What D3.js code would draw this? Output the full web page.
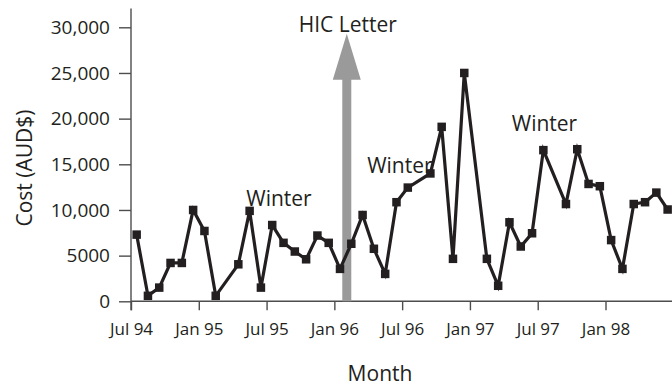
<!DOCTYPE html>
<html><head><meta charset="utf-8">
<script src="https://cdn.jsdelivr.net/npm/d3@7"></script>
<style>
html,body{margin:0;padding:0;background:#fff;}
svg{display:block;}
text{font-family:"Open Sans","Noto Sans",sans-serif;fill:#231f20;}
</style></head>
<body>
<script>
// ---- data ----
const months = ["1994-07","1994-08","1994-09","1994-10","1994-11","1994-12",
 "1995-01","1995-02","1995-04","1995-05","1995-06","1995-07","1995-08","1995-09","1995-10","1995-11","1995-12",
 "1996-01","1996-02","1996-03","1996-04","1996-05","1996-06","1996-07","1996-09","1996-10","1996-11","1996-12",
 "1997-02","1997-03","1997-04","1997-05","1997-06","1997-07","1997-09","1997-10","1997-11","1997-12",
 "1998-01","1998-02","1998-03","1998-04","1998-05","1998-06"];
const costs = [7300,600,1500,4200,4200,10000,
 7700,600,4050,9900,1500,8350,6400,5450,4600,7200,6400,
 3550,6300,9450,5750,3000,10850,12450,14000,19100,4650,25000,
 4650,1700,8650,6000,7450,16550,10650,16650,12850,12600,
 6700,3550,10650,10850,11900,10050];
const yTicks = [0,5000,10000,15000,20000,25000,30000];
const xTickMonths = ["1994-07","1995-01","1995-07","1996-01","1996-07","1997-01","1997-07","1998-01"];
const xTickLabels = ["Jul 94","Jan 95","Jul 95","Jan 96","Jul 96","Jan 97","Jul 97","Jan 98"];
const winterLabels = [{m:"1995-08", off:0.1, v:10400},{m:"1996-06", off:0.8, v:14100},{m:"1997-07", off:0.6, v:18600}];
const hicLetter = {m:"1996-02", off:0.1, top:29300, label:"HIC Letter"};

// ---- layout ----
const W=672,H=386;
const x0=131, x1=605.5, y0=301.3, y1=27.3;
const mIndex = s => { const [y,m]=s.split("-").map(Number); return (y-1994)*12+(m-7); };
const x = d3.scaleLinear().domain([0,42]).range([x0,x1]);
const y = d3.scaleLinear().domain([0,30000]).range([y0,y1]);

const svg = d3.select("body").append("svg").attr("width",W).attr("height",H);

// axes lines
const axisCol="#4d4d4d";
svg.append("line").attr("x1",x0).attr("x2",W).attr("y1",y0).attr("y2",y0).attr("stroke",axisCol).attr("stroke-width",1.4);
svg.append("line").attr("x1",x0).attr("x2",x0).attr("y1",y(32050)).attr("y2",y0+9).attr("stroke",axisCol).attr("stroke-width",1.4);

// y axis
const yAxis = d3.axisLeft(y).tickValues(yTicks).tickSize(12).tickPadding(9)
  .tickFormat(d => d<10000 ? String(d) : d3.format(",")(d));
const gy = svg.append("g").attr("transform",`translate(${x0},0)`).call(yAxis);
gy.select(".domain").remove();
gy.selectAll("line").attr("stroke",axisCol).attr("stroke-width",1.4);
gy.selectAll("text").attr("font-size",19).style("font-family",'"Open Sans",sans-serif').attr("fill","#231f20");

// x axis
const xAxis = d3.axisBottom(x).tickValues(xTickMonths.map(mIndex)).tickSize(9).tickPadding(14)
  .tickFormat((d,i)=>xTickLabels[i]);
const gx = svg.append("g").attr("transform",`translate(0,${y0})`).call(xAxis);
gx.select(".domain").remove();
gx.selectAll("line").attr("stroke",axisCol).attr("stroke-width",1.4);
gx.selectAll("text").attr("font-size",17).attr("dy","0.62em").style("font-family",'"Open Sans",sans-serif').attr("fill","#231f20");

// axis titles
svg.append("text").attr("x",380).attr("y",381).attr("text-anchor","middle").attr("font-size",21).text("Month");
svg.append("text").attr("transform",`translate(32,168) rotate(-90)`).attr("text-anchor","middle").attr("font-size",21).text("Cost (AUD$)");

// HIC arrow
const ax = x(mIndex(hicLetter.m)+hicLetter.off);
const tipY = y(hicLetter.top), headLen=46, headHalf=14, shaftHalf=4.5;
svg.append("path").attr("fill","#9a9a9a")
  .attr("d",`M${ax},${tipY} L${ax+headHalf},${tipY+headLen} L${ax+shaftHalf},${tipY+headLen} L${ax+shaftHalf},${y0} L${ax-shaftHalf},${y0} L${ax-shaftHalf},${tipY+headLen} L${ax-headHalf},${tipY+headLen} Z`);
svg.append("text").attr("x",ax+1).attr("y",tipY-1.5).attr("text-anchor","middle").attr("font-size",21).text(hicLetter.label);

// data
const data = months.map((m,i)=>({t:mIndex(m)+0.5, v:costs[i]}));
svg.append("path").datum(data).attr("fill","none").attr("stroke","#231f20").attr("stroke-width",3.2)
  .attr("stroke-linejoin","miter").attr("d",d3.line().x(d=>x(d.t)).y(d=>y(d.v)));
const s=8.5;
svg.selectAll("rect.pt").data(data).enter().append("rect").attr("class","pt")
  .attr("x",d=>x(d.t)-s/2).attr("y",d=>y(d.v)-s/2).attr("width",s).attr("height",s).attr("fill","#231f20");

// winter labels
svg.selectAll("text.winter").data(winterLabels).enter().append("text").attr("class","winter")
  .attr("x",d=>x(mIndex(d.m)+d.off)).attr("y",d=>y(d.v)).attr("text-anchor","middle").attr("font-size",21).text("Winter");
</script>
</body></html>
